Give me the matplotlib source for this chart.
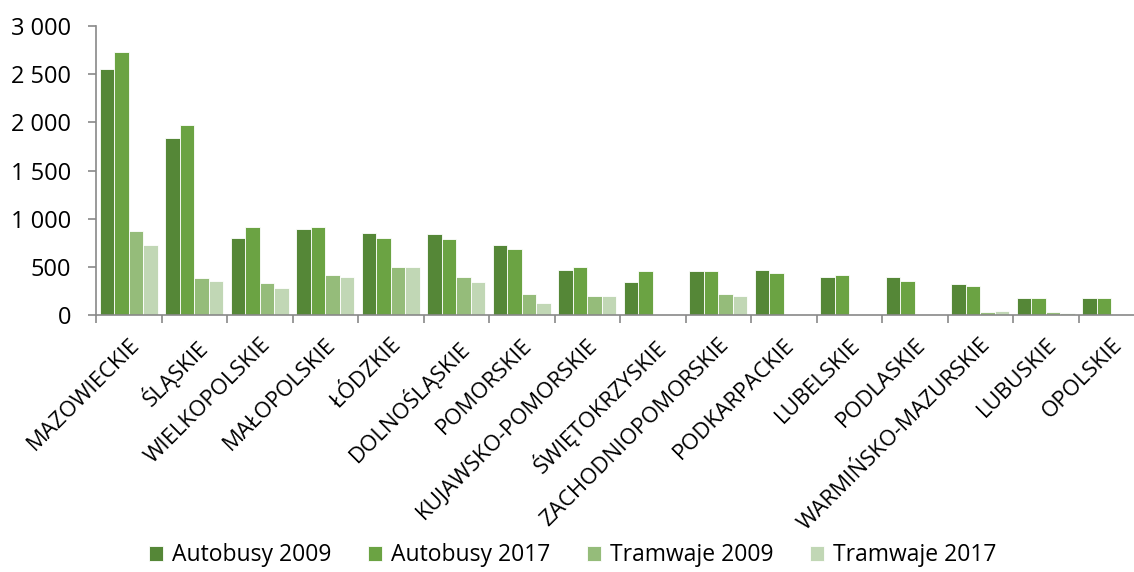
import matplotlib.pyplot as plt
import numpy as np
from matplotlib.ticker import FuncFormatter

plt.rcParams['font.family'] = ['Open Sans', 'DejaVu Sans']

regions = ['MAZOWIECKIE', 'ŚLĄSKIE', 'WIELKOPOLSKIE', 'MAŁOPOLSKIE', 'ŁÓDZKIE',
           'DOLNOŚLĄSKIE', 'POMORSKIE', 'KUJAWSKO-POMORSKIE', 'ŚWIĘTOKRZYSKIE',
           'ZACHODNIOPOMORSKIE', 'PODKARPACKIE', 'LUBELSKIE', 'PODLASKIE',
           'WARMIŃSKO-MAZURSKIE', 'LUBUSKIE', 'OPOLSKIE']

autobusy_2009 = [2550, 1837, 799, 889, 848, 841, 723, 471, 346, 453, 471, 398, 394, 318, 176, 176]
autobusy_2017 = [2730, 1969, 917, 917, 799, 785, 682, 495, 457, 453, 436, 412, 356, 298, 176, 173]
tramwaje_2009 = [868, 384, 329, 412, 495, 394, 215, 194, 0, 215, 0, 0, 0, 35, 35, 0]
tramwaje_2017 = [723, 349, 277, 391, 495, 339, 121, 197, 0, 197, 0, 0, 0, 45, 17, 0]

series = [
    ('Autobusy 2009', autobusy_2009, '#558737'),
    ('Autobusy 2017', autobusy_2017, '#6ba343'),
    ('Tramwaje 2009', tramwaje_2009, '#95bc7a'),
    ('Tramwaje 2017', tramwaje_2017, '#c1d7b5'),
]

fig = plt.figure(figsize=(11.34, 5.72), dpi=100)
# plot area runs a little past the right edge, as in the source picture
ax = fig.add_axes([96 / 1134, 1 - 315 / 572, 1048 / 1134, 289 / 572])

x = np.arange(len(regions))
w = 0.22
for i, (name, vals, col) in enumerate(series):
    ax.bar(x + (i - 1.5) * w, vals, w, color=col, edgecolor='white',
           linewidth=0.6, label=name)

ax.set_xlim(-0.5, len(regions) - 0.5)
ax.set_ylim(0, 3000)
ax.set_yticks(np.arange(0, 3001, 500))
ax.yaxis.set_major_formatter(FuncFormatter(lambda v, p: f'{int(v):,}'.replace(',', ' ')))

ax.set_xticks(x)
ax.set_xticklabels(regions, rotation=45, ha='right', rotation_mode='anchor')
ax.set_xticks(np.arange(-0.5, len(regions)), minor=True)
ax.tick_params(axis='x', which='major', length=0, pad=14, labelsize=16)
ax.tick_params(axis='x', which='minor', length=6, color='#898989', width=1.2)
ax.tick_params(axis='y', length=6, color='#898989', width=1.2, pad=12, labelsize=17)

for s in ['top', 'right']:
    ax.spines[s].set_visible(False)
for s in ['left', 'bottom']:
    ax.spines[s].set_color('#898989')
    ax.spines[s].set_linewidth(1.2)

fig.legend(loc='lower center', bbox_to_anchor=(0.505, -0.028), ncol=4, frameon=False,
           fontsize=16.5, handlelength=0.6, handleheight=0.6, handletextpad=0.4,
           columnspacing=1.6)

fig.savefig('out.png', dpi=100)
